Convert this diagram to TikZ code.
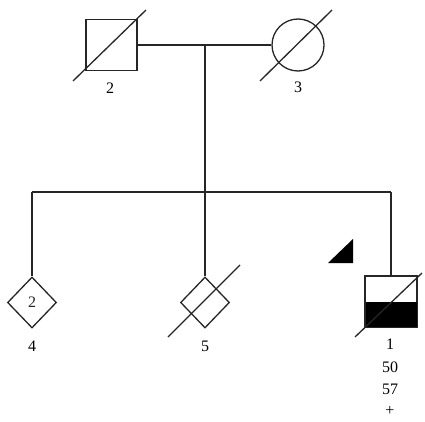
\documentclass[tikz,border=0pt]{standalone}
\usepackage{fontspec}
\setmainfont{Liberation Serif}
\usetikzlibrary{shapes.geometric}
\begin{document}
\begin{tikzpicture}[x=1pt,y=-1pt,
  ln/.style={line width=1.3pt,black!85},
  male/.style={draw,ln,rectangle,minimum size=51pt,inner sep=0pt},
  female/.style={draw,ln,circle,minimum size=52pt,inner sep=0pt},
  unk/.style={draw,ln,diamond,minimum width=49pt,minimum height=51pt,inner sep=0pt,font=\fontsize{16pt}{18pt}\selectfont},
  lbl/.style={font=\fontsize{16pt}{18pt}\selectfont,inner sep=0pt},
  dead/.style={ln}]
\useasboundingbox (0,0) rectangle (425,422);
\fill[white] (0,0) rectangle (425,422);
% parents
\node[male] (f) at (111.5,45) {};
\node[female] (mo) at (298,45) {};
\draw[dead] (73,81) -- (146,10);
\draw[dead] (260,81) -- (332,10);
\node[lbl] (lf) at (110,88) {2};
\node[lbl] (lm) at (298,87) {3};
\draw[ln] (f.east) -- (mo.west);
\coordinate (m) at (205,45);
\coordinate (s) at (205,192);
\coordinate (sl) at (32,192);
\coordinate (sr) at (391,192);
\draw[ln] (m) -- (s);
\draw[ln] (sl) -- (sr);
% children
\node[unk] (c4) at (32,302.5) {2};
\node[lbl] (l4) at (32,346) {4};
\node[unk] (c5) at (205,302.5) {};
\draw[dead] (168,337) -- (240,265);
\node[lbl] (l5) at (205,346) {5};
\node[male] (p) at (391,301.5) {};
\fill[black] (p.west) rectangle (p.south east);
\draw[ln] (p.north west) rectangle (p.south east);
\draw[dead] (355,337) -- (422,273);
\node[lbl] (l1) at (390,344) {1};
\node[lbl] (l50) at (390,367) {50};
\node[lbl] (l57) at (390,389) {57};
\node[lbl] (lp) at (390,411) {+};
\draw[ln] (sl) -- (c4.north);
\draw[ln] (s) -- (c5.north);
\draw[ln] (sr) -- (p.north);
% proband arrow
\fill[black] (328,263) -- (353,239) -- (353,263) -- cycle;
\end{tikzpicture}
\end{document}
